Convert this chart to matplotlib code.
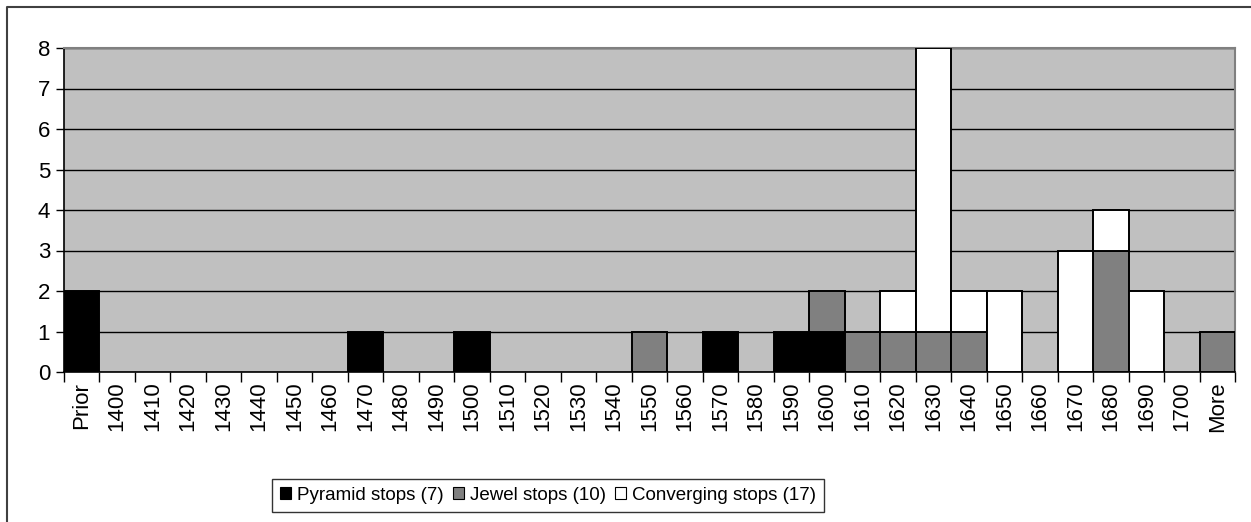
import matplotlib.pyplot as plt
import numpy as np
from matplotlib.patches import Patch
from matplotlib.lines import Line2D

plt.rcParams["font.family"] = ["Liberation Sans", "DejaVu Sans"]

# categories and counts
categories = ["Prior"] + [str(y) for y in range(1400, 1701, 10)] + ["More"]
pyramid = [2, 0, 0, 0, 0, 0, 0, 0, 1, 0, 0, 1, 0, 0, 0, 0, 0, 0, 1, 0, 1, 1,
           0, 0, 0, 0, 0, 0, 0, 0, 0, 0, 0]
jewel = [0, 0, 0, 0, 0, 0, 0, 0, 0, 0, 0, 0, 0, 0, 0, 0, 1, 0, 0, 0, 0, 1,
         1, 1, 1, 1, 0, 0, 0, 3, 0, 0, 1]
converging = [0, 0, 0, 0, 0, 0, 0, 0, 0, 0, 0, 0, 0, 0, 0, 0, 0, 0, 0, 0, 0, 0,
              0, 1, 7, 1, 2, 0, 3, 1, 2, 0, 0]
series_names = ["Pyramid stops (7)", "Jewel stops (10)", "Converging stops (17)"]
series_colors = ["#000000", "#808080", "#ffffff"]

fig = plt.figure(figsize=(12.51, 5.22), dpi=100)
ax = fig.add_axes([64 / 1251, 1 - 372 / 522, (1235 - 64) / 1251, (372 - 48) / 522])
ax.set_facecolor("#c0c0c0")

x = np.arange(len(categories))
bottom = np.zeros(len(categories))
for vals, color in zip([pyramid, jewel, converging], series_colors):
    vals = np.array(vals, dtype=float)
    mask = vals > 0
    ax.bar(x[mask], vals[mask], bottom=bottom[mask], width=1.0, color=color,
           edgecolor="black", linewidth=1.4, zorder=3)
    bottom += vals

ax.set_xlim(-0.5, len(categories) - 0.5)
ax.set_ylim(0, 8)
ax.set_yticks(range(9))
ax.yaxis.grid(True, color="black", linewidth=1.0, zorder=0)
ax.set_axisbelow(True)

ax.set_xticks(x)
ax.set_xticklabels(categories, rotation=90, fontsize=16)
ax.set_xticks(np.arange(-0.5, len(categories)), minor=True)
ax.tick_params(axis="x", which="major", length=0, pad=7)
ax.tick_params(axis="x", which="minor", length=7, width=1, color="black", direction="out")
ax.tick_params(axis="y", length=6, width=1, labelsize=16, pad=4)

for side in ["left", "bottom"]:
    ax.spines[side].set_color("black")
    ax.spines[side].set_linewidth(1.2)
for side in ["top", "right"]:
    ax.spines[side].set_color("#808080")
    ax.spines[side].set_linewidth(1.5)

handles = [Patch(facecolor=c, edgecolor="black", linewidth=0.8) for c in series_colors]
leg = fig.legend(handles, series_names, loc="center", ncol=3,
                 bbox_to_anchor=(548 / 1251, 1 - 495.5 / 522),
                 fontsize=13.5, frameon=True, fancybox=False,
                 handlelength=0.6, handleheight=0.6, handletextpad=0.3,
                 columnspacing=0.5, borderpad=0.45, borderaxespad=0)
leg.get_frame().set_edgecolor("black")
leg.get_frame().set_linewidth(1.0)

# chart area border (only top and left edges visible)
fx = 7 / 1251
fy = 1 - 7 / 522
fig.add_artist(Line2D([fx, fx, 1.0], [0.0, fy, fy], transform=fig.transFigure,
                      color="#404040", linewidth=1.5))

fig.savefig("out.png", dpi=100)
